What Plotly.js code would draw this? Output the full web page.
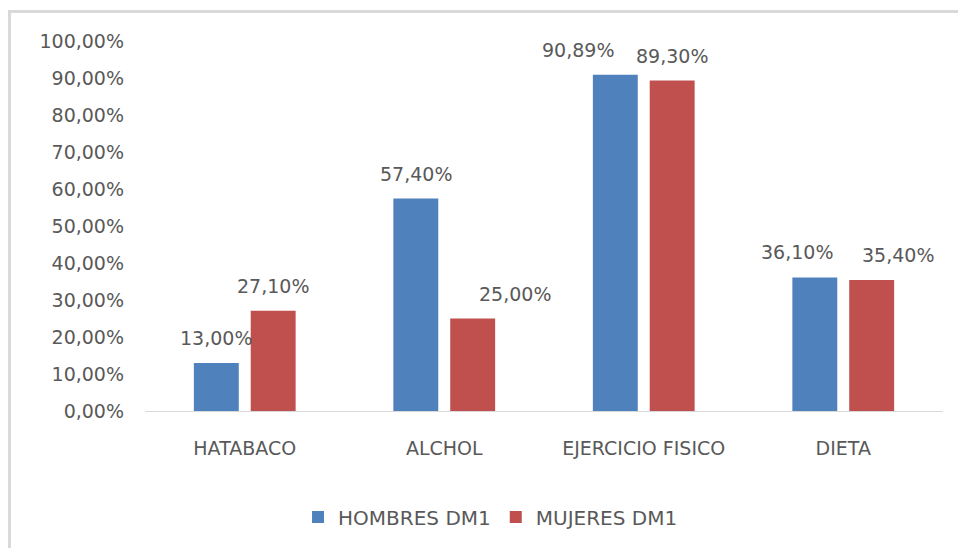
<!DOCTYPE html>
<html>
<head>
<meta charset="utf-8">
<script src="https://cdn.plot.ly/plotly-3.0.1.min.js"></script>
<style>
  html, body { margin: 0; padding: 0; background: #fff; }
  #wrap { position: relative; width: 958px; height: 548px; }
  #chart { position: absolute; left: 0; top: 0; width: 958px; height: 548px; }
  #frame { position: absolute; left: 8px; top: 10px; width: 960px; height: 560px;
           border-left: 3px solid #d9d9d9; border-top: 3px solid #d9d9d9; pointer-events: none; }
</style>
</head>
<body>
<div id="wrap">
  <div id="chart"></div>
  <div id="frame"></div>
</div>
<script>
const categories = ["HATABACO", "ALCHOL", "EJERCICIO FISICO", "DIETA"];
const hombres = [0.13, 0.574, 0.9089, 0.361];
const mujeres = [0.271, 0.25, 0.893, 0.354];
const seriesNames = ["HOMBRES DM1", "MUJERES DM1"];
const yTicks = [0, 0.1, 0.2, 0.3, 0.4, 0.5, 0.6, 0.7, 0.8, 0.9, 1.0];

// label nudges (pixels) as placed in the original chart
const labelNudgeHombres = [0, 0, -37, -18];
const labelNudgeMujeres = [0, 42, 0, 26];

const textColor = "#595959";
const font = "DejaVu Sans";
const bargap = 0.43;
const bargroupgap = 0.21;

const traces = [
  { type: "bar", name: seriesNames[0], x: categories, y: hombres,
    marker: { color: "#4F81BD" }, hoverinfo: "none" },
  { type: "bar", name: seriesNames[1], x: categories, y: mujeres,
    marker: { color: "#C0504D" }, hoverinfo: "none" }
];

const fmt = v => (v * 100).toFixed(2).replace(".", ",") + "%";
const off = (1 - bargap) / 4;
const annotations = [];
[[hombres, labelNudgeHombres], [mujeres, labelNudgeMujeres]].forEach(([vals, nudge], s) => {
  vals.forEach((v, i) => {
    annotations.push({
      xref: "x", yref: "y", x: i + (s === 0 ? -off : off), y: v,
      text: fmt(v), showarrow: false, yanchor: "middle", yshift: 25, xshift: nudge[i],
      font: { family: font, size: 19, color: textColor }
    });
  });
});

const layout = {
  width: 958, height: 548,
  margin: { l: 145, r: 15, t: 41, b: 137 },
  paper_bgcolor: "rgba(0,0,0,0)", plot_bgcolor: "#fff",
  separators: ",.",
  barmode: "group", bargap: bargap, bargroupgap: bargroupgap,
  font: { family: font, size: 19, color: textColor },
  xaxis: {
    type: "category", showgrid: false, showline: true, linecolor: "#d9d9d9", linewidth: 1,
    ticks: "", ticklabelstandoff: 20,
    tickfont: { family: font, size: 19, color: textColor }
  },
  yaxis: {
    range: [0, 1], tickvals: yTicks, tickformat: ".2%", showgrid: false, zeroline: false,
    showline: false, ticks: "", ticklabelstandoff: 20,
    tickfont: { family: font, size: 19, color: textColor }
  },
  showlegend: true,
  legend: {
    orientation: "h", x: 0.433, xanchor: "center", y: -0.2865, yanchor: "middle",
    font: { family: font, size: 20, color: textColor }
  },
  annotations: annotations
};

Plotly.newPlot("chart", traces, layout, { staticPlot: true });
</script>
</body>
</html>
